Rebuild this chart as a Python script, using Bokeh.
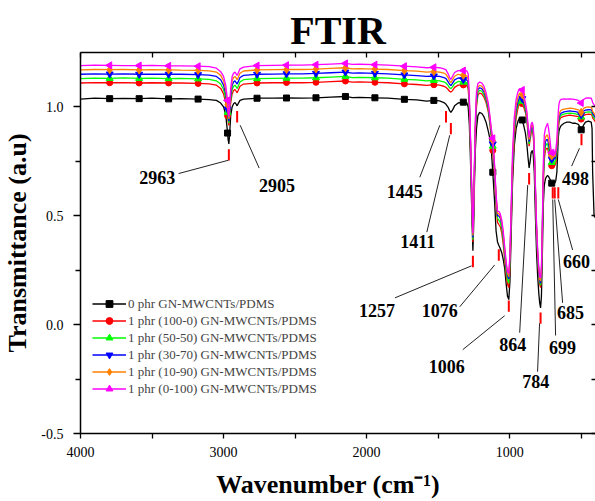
import numpy as np
from bokeh.plotting import figure
from bokeh.models import (Range1d, LinearAxis, FixedTicker, PrintfTickFormatter,
                          Legend, LegendItem)
from bokeh.core.properties import value
from bokeh.embed import file_html
from bokeh.resources import INLINE

# ---- spectra (wavenumber in cm^-1, transmittance in a.u.) ----
wavenumber = [
    4000, 3900, 3796, 3700, 3590, 3500, 3384, 3300, 3178, 3100,
    3050, 3020, 3000, 2985, 2972, 2968, 2963, 2958, 2950, 2940,
    2930, 2920, 2912, 2905, 2898, 2885, 2860, 2766, 2650, 2560,
    2450, 2354, 2250, 2148, 2100, 2050, 1942, 1850, 1736, 1650,
    1580, 1530, 1490, 1460, 1445, 1430, 1420, 1411, 1400, 1385,
    1360, 1324, 1300, 1290, 1282, 1275, 1268, 1262, 1257, 1252,
    1246, 1240, 1232, 1222, 1210, 1195, 1180, 1165, 1150, 1140,
    1128, 1118, 1105, 1095, 1085, 1076, 1066, 1055, 1045, 1035,
    1025, 1015, 1006, 998, 990, 980, 968, 955, 942, 930,
    912, 900, 890, 880, 872, 864, 857, 850, 842, 835,
    828, 820, 812, 804, 796, 790, 784, 778, 772, 765,
    758, 750, 742, 735, 728, 720, 712, 706, 699, 692,
    685, 678, 670, 665, 660, 655, 648, 640, 620, 600,
    580, 560, 540, 520, 510, 504, 500, 492, 485, 470,
    450, 430, 424, 420, 410, 400,
]

t_0phr = [
    1.036, 1.040, 1.038, 1.039, 1.038, 1.040, 1.037, 1.038, 1.036, 1.034,
    1.030, 1.018, 1.000, 0.965, 0.880, 0.850, 0.830, 0.870, 0.960, 1.000,
    1.015, 1.020, 1.013, 1.005, 1.015, 1.030, 1.036, 1.040, 1.040, 1.041,
    1.040, 1.042, 1.045, 1.048, 1.043, 1.044, 1.042, 1.040, 1.035, 1.032,
    1.027, 1.030, 1.028, 1.020, 1.012, 0.998, 0.983, 0.975, 0.985, 1.005,
    1.018, 1.022, 1.020, 1.000, 0.920, 0.780, 0.600, 0.450, 0.340, 0.450,
    0.650, 0.800, 0.900, 0.960, 0.975, 0.970, 0.955, 0.930, 0.890, 0.860,
    0.800, 0.700, 0.560, 0.430, 0.380, 0.365, 0.350, 0.330, 0.300, 0.260,
    0.190, 0.130, 0.115, 0.200, 0.400, 0.650, 0.820, 0.900, 0.935, 0.950,
    0.940, 0.910, 0.880, 0.830, 0.770, 0.720, 0.750, 0.790, 0.800, 0.780,
    0.700, 0.500, 0.330, 0.220, 0.140, 0.100, 0.077, 0.130, 0.300, 0.550,
    0.640, 0.670, 0.680, 0.685, 0.680, 0.670, 0.660, 0.650, 0.645, 0.660,
    0.650, 0.660, 0.700, 0.780, 0.860, 0.890, 0.905, 0.915, 0.925, 0.930,
    0.930, 0.925, 0.925, 0.920, 0.910, 0.900, 0.895, 0.900, 0.915, 0.930,
    0.935, 0.930, 0.900, 0.700, 0.500, 0.490,
]

t_100_0 = [
    1.110, 1.112, 1.111, 1.112, 1.110, 1.111, 1.110, 1.110, 1.108, 1.106,
    1.100, 1.085, 1.060, 1.020, 0.960, 0.935, 0.915, 0.950, 1.020, 1.060,
    1.075, 1.080, 1.072, 1.065, 1.075, 1.095, 1.105, 1.110, 1.111, 1.112,
    1.111, 1.113, 1.116, 1.119, 1.114, 1.115, 1.113, 1.111, 1.106, 1.103,
    1.099, 1.102, 1.100, 1.095, 1.090, 1.080, 1.072, 1.068, 1.075, 1.090,
    1.100, 1.101, 1.098, 1.085, 1.000, 0.850, 0.660, 0.500, 0.380, 0.500,
    0.700, 0.880, 1.000, 1.055, 1.064, 1.060, 1.045, 1.020, 0.980, 0.930,
    0.860, 0.800, 0.680, 0.550, 0.470, 0.460, 0.450, 0.420, 0.370, 0.300,
    0.230, 0.185, 0.170, 0.260, 0.450, 0.700, 0.860, 0.950, 0.995, 1.022,
    1.015, 0.995, 0.975, 0.940, 0.880, 0.820, 0.850, 0.880, 0.890, 0.870,
    0.780, 0.600, 0.420, 0.300, 0.220, 0.185, 0.170, 0.220, 0.400, 0.640,
    0.760, 0.800, 0.810, 0.810, 0.790, 0.760, 0.740, 0.730, 0.720, 0.740,
    0.730, 0.740, 0.780, 0.840, 0.900, 0.930, 0.945, 0.952, 0.957, 0.960,
    0.962, 0.960, 0.958, 0.955, 0.950, 0.946, 0.944, 0.950, 0.960, 0.965,
    0.967, 0.966, 0.960, 0.950, 0.940, 0.930,
]

t_50_50 = [
    1.130, 1.132, 1.131, 1.133, 1.131, 1.132, 1.130, 1.131, 1.129, 1.127,
    1.120, 1.105, 1.080, 1.040, 0.975, 0.945, 0.925, 0.960, 1.035, 1.080,
    1.095, 1.100, 1.092, 1.085, 1.095, 1.115, 1.125, 1.130, 1.131, 1.132,
    1.132, 1.134, 1.137, 1.140, 1.135, 1.136, 1.134, 1.132, 1.127, 1.124,
    1.120, 1.122, 1.120, 1.115, 1.110, 1.098, 1.088, 1.084, 1.092, 1.107,
    1.117, 1.114, 1.112, 1.100, 1.010, 0.860, 0.670, 0.510, 0.390, 0.510,
    0.710, 0.890, 1.010, 1.068, 1.076, 1.072, 1.057, 1.030, 0.990, 0.940,
    0.870, 0.820, 0.700, 0.570, 0.490, 0.480, 0.470, 0.440, 0.390, 0.320,
    0.250, 0.205, 0.190, 0.280, 0.470, 0.720, 0.880, 0.970, 1.010, 1.033,
    1.026, 1.005, 0.985, 0.950, 0.890, 0.830, 0.860, 0.890, 0.900, 0.880,
    0.790, 0.610, 0.430, 0.310, 0.230, 0.195, 0.180, 0.230, 0.410, 0.660,
    0.780, 0.820, 0.830, 0.830, 0.810, 0.780, 0.755, 0.745, 0.735, 0.755,
    0.745, 0.755, 0.790, 0.850, 0.910, 0.940, 0.955, 0.962, 0.967, 0.970,
    0.972, 0.970, 0.968, 0.965, 0.960, 0.956, 0.954, 0.960, 0.970, 0.975,
    0.977, 0.976, 0.970, 0.960, 0.950, 0.940,
]

t_30_70 = [
    1.150, 1.152, 1.151, 1.152, 1.150, 1.151, 1.150, 1.150, 1.148, 1.146,
    1.140, 1.125, 1.100, 1.060, 0.990, 0.955, 0.935, 0.975, 1.050, 1.100,
    1.115, 1.120, 1.112, 1.105, 1.115, 1.135, 1.145, 1.150, 1.151, 1.152,
    1.152, 1.154, 1.157, 1.160, 1.155, 1.156, 1.154, 1.152, 1.147, 1.144,
    1.140, 1.142, 1.140, 1.135, 1.130, 1.115, 1.104, 1.098, 1.108, 1.124,
    1.133, 1.126, 1.124, 1.112, 1.020, 0.870, 0.680, 0.520, 0.400, 0.520,
    0.720, 0.900, 1.030, 1.080, 1.088, 1.084, 1.069, 1.040, 1.000, 0.950,
    0.880, 0.830, 0.710, 0.580, 0.500, 0.500, 0.490, 0.460, 0.410, 0.340,
    0.270, 0.225, 0.210, 0.300, 0.490, 0.740, 0.900, 0.985, 1.025, 1.045,
    1.038, 1.015, 0.995, 0.960, 0.900, 0.840, 0.870, 0.900, 0.910, 0.890,
    0.800, 0.620, 0.440, 0.320, 0.240, 0.205, 0.190, 0.240, 0.420, 0.680,
    0.800, 0.840, 0.850, 0.850, 0.830, 0.800, 0.770, 0.760, 0.750, 0.770,
    0.760, 0.770, 0.800, 0.860, 0.920, 0.950, 0.965, 0.972, 0.977, 0.980,
    0.982, 0.980, 0.978, 0.975, 0.970, 0.966, 0.964, 0.970, 0.980, 0.985,
    0.987, 0.986, 0.980, 0.970, 0.960, 0.950,
]

t_10_90 = [
    1.170, 1.172, 1.171, 1.172, 1.170, 1.171, 1.170, 1.169, 1.168, 1.166,
    1.160, 1.145, 1.120, 1.080, 1.010, 0.965, 0.945, 0.990, 1.070, 1.120,
    1.135, 1.140, 1.132, 1.125, 1.135, 1.155, 1.165, 1.170, 1.171, 1.172,
    1.172, 1.174, 1.177, 1.180, 1.175, 1.176, 1.174, 1.172, 1.167, 1.164,
    1.160, 1.162, 1.160, 1.155, 1.150, 1.135, 1.120, 1.112, 1.124, 1.141,
    1.150, 1.145, 1.143, 1.130, 1.030, 0.880, 0.690, 0.530, 0.410, 0.530,
    0.730, 0.920, 1.050, 1.092, 1.099, 1.096, 1.080, 1.050, 1.010, 0.960,
    0.890, 0.846, 0.720, 0.590, 0.510, 0.510, 0.500, 0.470, 0.420, 0.350,
    0.280, 0.235, 0.220, 0.310, 0.510, 0.760, 0.920, 1.005, 1.045, 1.064,
    1.056, 1.030, 1.005, 0.970, 0.910, 0.850, 0.880, 0.910, 0.920, 0.900,
    0.810, 0.630, 0.450, 0.330, 0.250, 0.210, 0.200, 0.250, 0.430, 0.700,
    0.830, 0.860, 0.870, 0.870, 0.850, 0.820, 0.785, 0.775, 0.765, 0.785,
    0.770, 0.785, 0.820, 0.880, 0.940, 0.965, 0.978, 0.985, 0.990, 0.992,
    0.994, 0.993, 0.990, 0.987, 0.982, 0.978, 0.975, 0.982, 0.992, 0.998,
    1.000, 0.998, 0.990, 0.980, 0.970, 0.960,
]

t_0_100 = [
    1.190, 1.192, 1.191, 1.190, 1.190, 1.191, 1.189, 1.189, 1.187, 1.185,
    1.178, 1.162, 1.140, 1.100, 1.030, 0.975, 0.955, 1.000, 1.085, 1.140,
    1.155, 1.160, 1.152, 1.145, 1.155, 1.175, 1.183, 1.190, 1.191, 1.192,
    1.192, 1.194, 1.197, 1.200, 1.195, 1.196, 1.194, 1.192, 1.187, 1.184,
    1.180, 1.182, 1.180, 1.175, 1.170, 1.152, 1.136, 1.126, 1.140, 1.158,
    1.167, 1.167, 1.166, 1.152, 1.050, 0.900, 0.700, 0.540, 0.420, 0.540,
    0.750, 0.940, 1.070, 1.108, 1.114, 1.110, 1.095, 1.065, 1.020, 0.970,
    0.900, 0.856, 0.730, 0.600, 0.520, 0.520, 0.510, 0.480, 0.430, 0.360,
    0.290, 0.245, 0.235, 0.325, 0.530, 0.790, 0.950, 1.035, 1.070, 1.084,
    1.078, 1.050, 1.020, 0.980, 0.920, 0.860, 0.890, 0.920, 0.930, 0.910,
    0.820, 0.640, 0.460, 0.340, 0.260, 0.220, 0.215, 0.265, 0.450, 0.740,
    0.870, 0.900, 0.915, 0.925, 0.900, 0.860, 0.810, 0.790, 0.780, 0.800,
    0.780, 0.800, 0.850, 0.920, 0.980, 1.015, 1.030, 1.035, 1.037, 1.036,
    1.037, 1.036, 1.034, 1.030, 1.025, 1.021, 1.018, 1.024, 1.033, 1.040,
    1.042, 1.040, 1.030, 1.020, 1.010, 1.000,
]

# wavenumbers at which each curve carries a symbol
marker_wavenumbers = [3796, 3590, 3384, 3178, 2972, 2766, 2560, 2354, 2148,
                      1942, 1736, 1530, 1324, 1118, 912, 706, 500]

series_names = ["0 phr GN-MWCNTs/PDMS",
                "1 phr (100-0) GN-MWCNTs/PDMS",
                "1 phr (50-50) GN-MWCNTs/PDMS",
                "1 phr (30-70) GN-MWCNTs/PDMS",
                "1 phr (10-90) GN-MWCNTs/PDMS",
                "1 phr (0-100) GN-MWCNTs/PDMS"]
series_values = [t_0phr, t_100_0, t_50_50, t_30_70, t_10_90, t_0_100]

# assigned bands
peak_wavenumbers = [2963, 2905, 1445, 1411, 1257, 1076, 1006, 864, 784, 699, 685, 660, 498]

# axis ticks
x_major = [4000, 3000, 2000, 1000]
x_minor = [3500, 2500, 1500, 500]
y_major = [-0.5, 0.0, 0.5, 1.0]
y_minor = [-0.25, 0.25, 0.75]

for s in series_values:
    assert len(s) == len(wavenumber)

# ---- styling ----
colors = ["#000000", "#FF0000", "#00FF00", "#0000FF", "#FF8000", "#FF00FF"]
markers = ["square", "circle", "triangle", "inverted_triangle", "diamond", "triangle"]
marker_angles = [0, 0, 0, 0, 0, np.pi / 2]
marker_sizes = [6, 6, 7, 7, 8, 7]

# peak annotation layout (tick centre, label centre, leader line ends)
tick_mid = [0.78, 0.955, 0.955, 0.90, 0.29, 0.32, 0.085, 0.67, 0.03, 0.605, 0.605, 0.605, 0.85]
tick_half = 0.026
label_x = [3463, 2626, 1733, 1642, 1928, 1488, 1440, 979, 818, 630, 574, 533, 539]
label_y = [0.677, 0.641, 0.613, 0.384, 0.066, 0.064, -0.193, -0.092, -0.262, -0.106, 0.054, 0.288, 0.673]
lead_x0 = [2967, 2884, 1488, 1419, 1267, 1105, 1035, 874, 791, 699, 685, 660, 512]
lead_y0 = [0.755, 0.916, 0.916, 0.870, 0.270, 0.274, 0.041, 0.641, 0.006, 0.575, 0.575, 0.575, 0.810]
lead_x1 = [3314, 2751, 1628, 1579, 1802, 1349, 1328, 930, 805, 679, 630, 560, 567]
lead_y1 = [0.694, 0.719, 0.677, 0.425, 0.123, 0.082, -0.115, -0.037, -0.216, -0.050, 0.100, 0.343, 0.728]

SERIF = "Liberation Serif"

p = figure(width=595, height=501,
           x_range=Range1d(4000, 400), y_range=Range1d(-0.5, 1.25),
           output_backend="svg", toolbar_location=None,
           min_border_left=80, min_border_right=0,
           min_border_top=52, min_border_bottom=67)

p.title.text = "FTIR"
p.title.text_font = SERIF
p.title.text_font_size = "40px"
p.title.text_font_style = "bold"
p.title.text_color = "black"
p.title.align = "center"
p.title.standoff = 0
p.title.offset = 0

p.xgrid.grid_line_color = None
p.ygrid.grid_line_color = None
p.outline_line_color = None
p.background_fill_color = "white"

xa = p.xaxis[0]
xa.ticker = FixedTicker(ticks=x_major, minor_ticks=x_minor)
# trailing no-break spaces nudge the centred title slightly left
xa.axis_label = "Wavenumber (cm\u207b\u00b9)\u00a0\u00a0\u00a0"
ya = p.yaxis[0]
ya.ticker = FixedTicker(ticks=y_major, minor_ticks=y_minor)
ya.formatter = PrintfTickFormatter(format="%.1f")
ya.axis_label = "Transmittance (a.u)"

for ax in (xa, ya):
    ax.axis_line_width = 1.5
    ax.axis_line_color = "black"
    ax.major_tick_line_color = "black"
    ax.minor_tick_line_color = "black"
    ax.major_tick_line_width = 1.3
    ax.minor_tick_line_width = 1.3
    ax.major_tick_in = 0
    ax.minor_tick_in = 0
    ax.major_label_text_font = SERIF
    ax.major_label_text_font_size = "14px"
    ax.major_label_text_color = "black"
    ax.axis_label_text_font = SERIF
    ax.axis_label_text_font_size = "26px"
    ax.axis_label_text_font_style = "bold"
    ax.axis_label_text_color = "black"

xa.major_tick_out = 5
xa.minor_tick_out = 5
xa.major_label_standoff = 8
xa.axis_label_standoff = 10
ya.major_tick_out = 7
ya.minor_tick_out = 5
ya.major_label_standoff = 10
ya.axis_label_standoff = 6

# mirrored frame axes: unlabeled ticks pointing inwards
top = LinearAxis(ticker=FixedTicker(ticks=[], minor_ticks=x_major + x_minor),
                 minor_tick_in=5, minor_tick_out=0,
                 axis_line_width=1.5, minor_tick_line_width=1.3,
                 major_label_standoff=0)
right = LinearAxis(ticker=FixedTicker(ticks=[], minor_ticks=y_major + y_minor),
                   minor_tick_in=4, minor_tick_out=0, axis_line_color=None,
                   minor_tick_line_width=1.3, major_label_standoff=0)
p.add_layout(top, "above")
p.add_layout(right, "right")

# spectra
legend_items = []
wn = np.array(wavenumber)
marker_idx = [wavenumber.index(m) for m in marker_wavenumbers]
for name, vals, col, mk, ang, sz in zip(series_names, series_values, colors,
                                        markers, marker_angles, marker_sizes):
    v = np.array(vals)
    lr = p.line(wn, v, line_color=col, line_width=1.3)
    sr = p.scatter(wn[marker_idx], v[marker_idx], marker=mk, angle=ang, size=sz,
                   fill_color=col, line_color=col)
    legend_items.append(LegendItem(label=name, renderers=[lr, sr]))

# band markers, leader lines and band labels
pk = np.array(peak_wavenumbers)
tm = np.array(tick_mid)
p.segment(x0=pk, y0=tm - tick_half, x1=pk, y1=tm + tick_half,
          line_color="#FF0000", line_width=2)
p.segment(x0=lead_x0, y0=lead_y0, x1=lead_x1, y1=lead_y1,
          line_color="#222222", line_width=1)
p.text(x=label_x, y=label_y, text=[str(w) for w in peak_wavenumbers],
       text_font=value(SERIF), text_font_style="bold", text_font_size="18px",
       text_align="center", text_baseline="middle", text_color="black")

legend = Legend(items=legend_items, location=(12, 36),
                padding=0, margin=0, spacing=0,
                glyph_width=34, glyph_height=17, label_height=17,
                label_standoff=2, label_text_font=SERIF,
                label_text_font_size="13px", label_text_baseline="middle",
                border_line_alpha=0, background_fill_alpha=0)
p.add_layout(legend, "center")

open("out.html", "w").write(file_html(p, INLINE))
